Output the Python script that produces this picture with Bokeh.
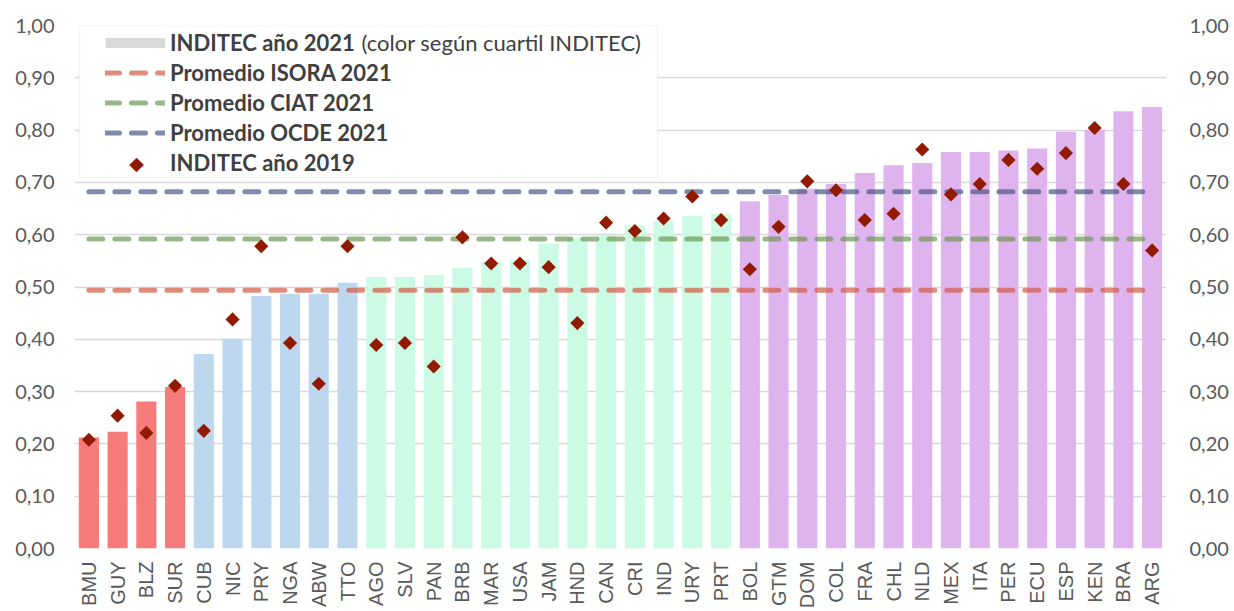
import math
from bokeh.plotting import figure
from bokeh.models import (Range1d, FactorRange, LinearAxis, FixedTicker, Legend,
                          LegendItem, BoxAnnotation, Label, ColumnDataSource)
from bokeh.embed import file_html
from bokeh.resources import INLINE

countries = ["BMU", "GUY", "BLZ", "SUR", "CUB", "NIC", "PRY", "NGA", "ABW", "TTO",
             "AGO", "SLV", "PAN", "BRB", "MAR", "USA", "JAM", "HND", "CAN", "CRI",
             "IND", "URY", "PRT", "BOL", "GTM", "DOM", "COL", "FRA", "CHL", "NLD",
             "MEX", "ITA", "PER", "ECU", "ESP", "KEN", "BRA", "ARG"]
inditec_2021 = [0.212, 0.223, 0.281, 0.309, 0.372, 0.401, 0.483, 0.487, 0.487, 0.508,
                0.519, 0.519, 0.523, 0.537, 0.548, 0.552, 0.583, 0.594, 0.599, 0.618,
                0.626, 0.636, 0.640, 0.664, 0.676, 0.688, 0.697, 0.718, 0.733, 0.737,
                0.758, 0.758, 0.761, 0.765, 0.797, 0.800, 0.836, 0.844]
inditec_2019 = [0.208, 0.254, 0.221, 0.311, 0.225, 0.438, 0.578, 0.393, 0.315, 0.578,
                0.389, 0.393, 0.348, 0.595, 0.545, 0.545, 0.538, 0.431, 0.623, 0.607,
                0.631, 0.673, 0.628, 0.534, 0.615, 0.702, 0.685, 0.628, 0.640, 0.763,
                0.677, 0.697, 0.743, 0.726, 0.756, 0.804, 0.697, 0.570]
quartile = [1, 1, 1, 1, 2, 2, 2, 2, 2, 2,
            3, 3, 3, 3, 3, 3, 3, 3, 3, 3,
            3, 3, 3, 4, 4, 4, 4, 4, 4, 4,
            4, 4, 4, 4, 4, 4, 4, 4]
promedio_isora = 0.494
promedio_ciat = 0.592
promedio_ocde = 0.682
tick_values = [0.0, 0.1, 0.2, 0.3, 0.4, 0.5, 0.6, 0.7, 0.8, 0.9, 1.0]
tick_labels = ["0,00", "0,10", "0,20", "0,30", "0,40", "0,50", "0,60", "0,70", "0,80", "0,90", "1,00"]

quartile_colors = {1: "#F87B7B", 2: "#BDD7EE", 3: "#CCFBE5", 4: "#DFB3ED"}

src = ColumnDataSource(dict(
    cat=countries, v2021=inditec_2021, v2019=inditec_2019,
    color=[quartile_colors[q] for q in quartile],
))

FONT = "Lato"
p = figure(x_range=FactorRange(factors=countries, range_padding=0),
           y_range=Range1d(0, 1.0),
           width=1234, height=611, output_backend="svg", toolbar_location=None,
           min_border_left=74, min_border_right=68, min_border_top=25, min_border_bottom=62)
p.outline_line_color = None
p.xgrid.visible = False
p.ygrid.ticker = FixedTicker(ticks=tick_values)
p.ygrid.grid_line_color = "#D9D9D9"
p.ygrid.grid_line_width = 1.3

p.vbar(x="cat", top="v2021", width=0.7, fill_color="color", line_color=None, source=src)

line_specs = [(promedio_isora, "#D25B45"), (promedio_ciat, "#6C9854"), (promedio_ocde, "#4A5888")]
line_renderers = []
for val, col in line_specs:
    r = p.line(x=[countries[0], countries[-1]], y=[val, val], line_color=col, line_alpha=0.7,
               line_width=5, line_dash="14 12", line_cap="round")
    line_renderers.append(r)

sc = p.scatter(x="cat", y="v2019", marker="square", angle=math.pi / 4, size=10,
               fill_color="#921A00", line_color=None, source=src)

nan = float("nan")
bar_legend = p.line(x=[countries[0], countries[0]], y=[nan, nan], line_color="#D9D9D9",
                    line_width=10, line_cap="butt")
marker_legend = p.line(x=[countries[0], countries[0]], y=[nan, nan], line_color="#921A00",
                       line_alpha=0, line_width=1)

# axes
yax = p.yaxis[0]
yax.ticker = FixedTicker(ticks=tick_values)
yax.major_label_overrides = dict(zip(tick_values, tick_labels))
yax.axis_line_color = None
yax.major_tick_line_color = None
yax.minor_tick_line_color = None
yax.major_tick_out = 0
yax.major_tick_in = 0
yax.major_label_standoff = 20
yax.major_label_text_font = FONT
yax.major_label_text_font_size = "20px"
yax.major_label_text_color = "#595959"

rax = LinearAxis(ticker=FixedTicker(ticks=tick_values),
                 major_label_overrides=dict(zip(tick_values, tick_labels)),
                 axis_line_color=None, major_tick_line_color=None, minor_tick_line_color=None,
                 major_tick_out=0, major_tick_in=0, major_label_standoff=23,
                 major_label_text_font=FONT, major_label_text_font_size="20px",
                 major_label_text_color="#595959")
p.add_layout(rax, "right")

xax = p.xaxis[0]
xax.axis_line_color = None
xax.major_tick_line_color = None
xax.major_tick_out = 0
xax.major_tick_in = 0
xax.major_label_orientation = math.pi / 2
xax.major_label_standoff = 13
xax.major_label_text_font = "Liberation Sans"
xax.major_label_text_font_size = "20px"
xax.major_label_text_color = "#595959"

box = BoxAnnotation(left=5, right=583, top=523, bottom=371,
                    left_units="screen", right_units="screen", top_units="screen", bottom_units="screen",
                    fill_color="white", fill_alpha=1, line_color="#D9D9D9", line_width=1.3)
p.add_layout(box)

legend = Legend(items=[
    LegendItem(label="INDITEC año 2021", renderers=[bar_legend]),
    LegendItem(label="Promedio ISORA 2021", renderers=[line_renderers[0]]),
    LegendItem(label="Promedio CIAT 2021", renderers=[line_renderers[1]]),
    LegendItem(label="Promedio OCDE 2021", renderers=[line_renderers[2]]),
    LegendItem(label="INDITEC año 2019", renderers=[marker_legend]),
], location=(31, 372), padding=0, margin=0, spacing=3, label_height=27, glyph_height=27,
   glyph_width=60, label_standoff=5, background_fill_alpha=0, border_line_alpha=0,
   label_text_font=FONT, label_text_font_size="22px", label_text_font_style="bold",
   label_text_color="#404040")
p.add_layout(legend)

note = Label(x=287, y=506, x_units="screen", y_units="screen", text="(color según cuartil INDITEC)",
             text_baseline="middle", text_font=FONT, text_font_size="22px", text_color="#404040")
p.add_layout(note)

diamond = Label(x=62, y=386, x_units="screen", y_units="screen", text="\u25c6",
                text_align="center", text_baseline="middle", text_font="DejaVu Sans",
                text_font_size="19px", text_color="#921A00")
p.add_layout(diamond)

open("out.html", "w").write(file_html(p, INLINE))
